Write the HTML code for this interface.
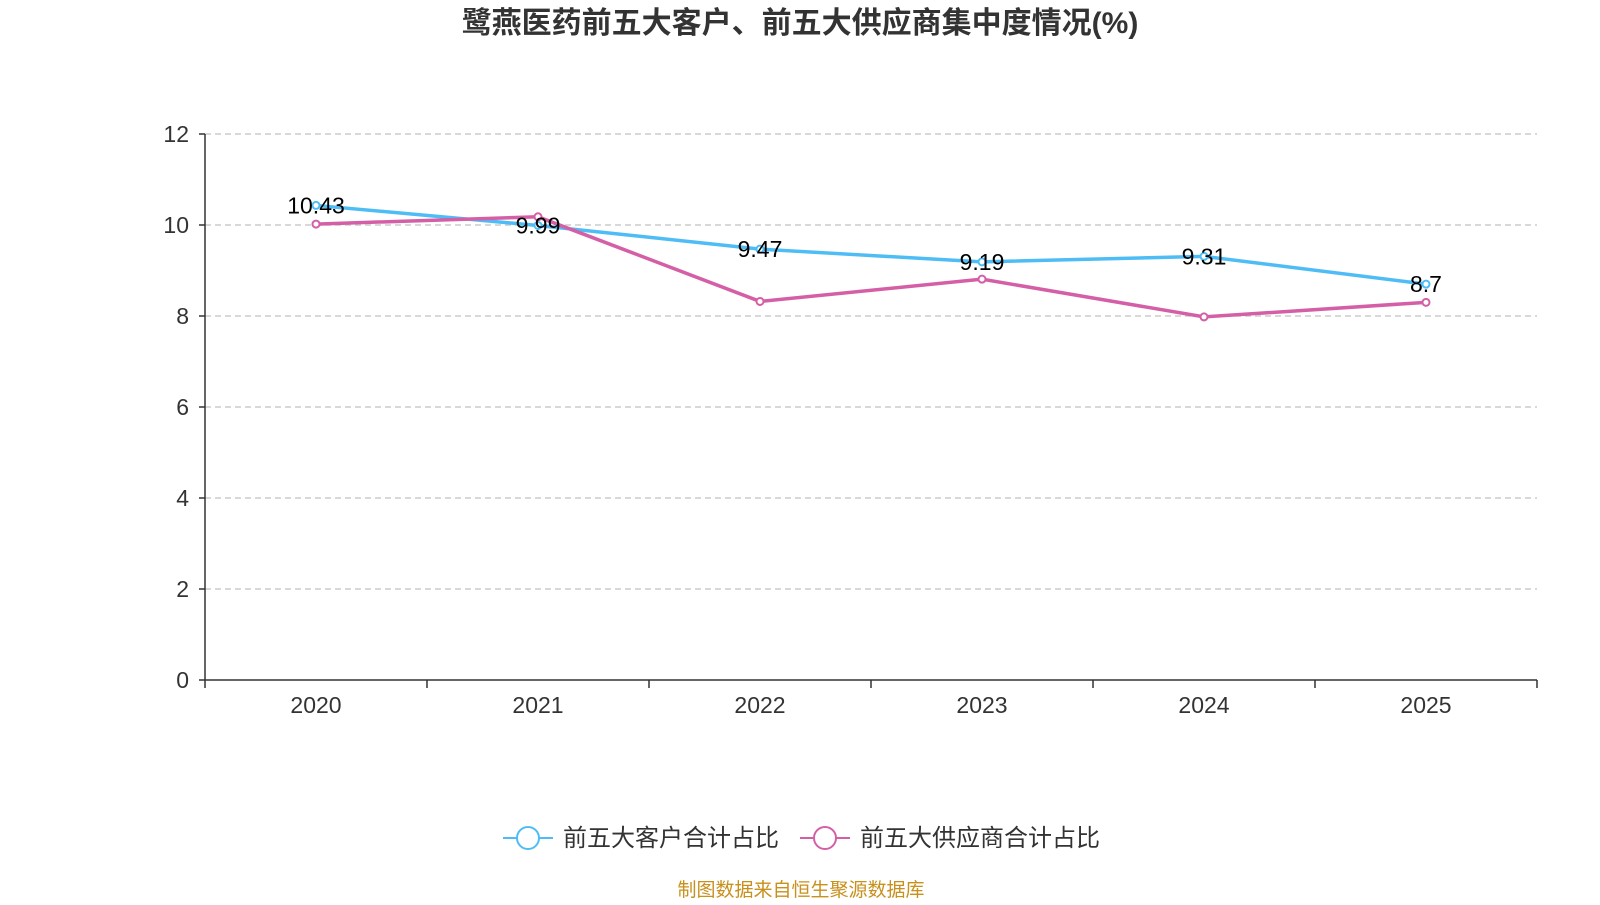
<!DOCTYPE html>
<html><head><meta charset="utf-8">
<style>
html,body{margin:0;padding:0;background:#fff;}
body{width:1600px;height:900px;overflow:hidden;font-family:"Liberation Sans","Noto Sans CJK SC",sans-serif;}
</style></head>
<body>
<svg id="chart" width="1600" height="900" xmlns="http://www.w3.org/2000/svg" font-family="Liberation Sans, Noto Sans CJK SC, sans-serif">
<text x="800" y="33" text-anchor="middle" font-size="30" font-weight="bold" fill="#333">鹭燕医药前五大客户、前五大供应商集中度情况(%)</text>
<g id="grid"></g><g id="axes"></g><g id="series"></g>
<g>
<g>
<line x1="503" y1="838" x2="553" y2="838" stroke="#4fbdf5" stroke-width="2"/>
<circle cx="528" cy="838" r="11" fill="#fff" stroke="#4fbdf5" stroke-width="2"/>
<text x="563" y="846" font-size="24" fill="#333">前五大客户合计占比</text></g>
<g>
<line x1="800" y1="838" x2="850" y2="838" stroke="#d45fa6" stroke-width="2"/>
<circle cx="825" cy="838" r="11" fill="#fff" stroke="#d45fa6" stroke-width="2"/>
<text x="860" y="846" font-size="24" fill="#333">前五大供应商合计占比</text></g>
</g>
<text x="801" y="896" text-anchor="middle" font-size="19" fill="#c8901c">制图数据来自恒生聚源数据库</text>
</svg>
<script>
const categories=["2020","2021","2022","2023","2024","2025"];
const customerValues=[10.43,9.99,9.47,9.19,9.31,8.7];
const supplierValues=[10.02,10.18,8.32,8.81,7.98,8.30];
const yTicks=[0,2,4,6,8,10,12];
const NS="http://www.w3.org/2000/svg";
const L=205,R=1537,T=134,B=680;
const band=(R-L)/categories.length;
const x=i=>L+band*(i+0.5);
const y=v=>B-(v/12)*(B-T);
function mk(tag,attrs,parent,text){const e=document.createElementNS(NS,tag);for(const k in attrs)e.setAttribute(k,attrs[k]);if(text!==undefined)e.textContent=text;parent.appendChild(e);return e;}
const grid=document.getElementById('grid'),axes=document.getElementById('axes'),series=document.getElementById('series');
yTicks.forEach(t=>{
  if(t>0){const g=mk('line',{x1:L,x2:R,y1:y(t),y2:y(t),stroke:'#ccc','stroke-dasharray':'6,4','stroke-width':1.5},grid);
  
  }
  const tk=mk('line',{x1:L-6,x2:L,y1:y(t),y2:y(t),stroke:'#333','stroke-width':1.5},axes);
  
  
  const lb=mk('text',{x:L-16,y:y(t)+8,'text-anchor':'end','font-size':23,fill:'#333'},axes,String(t));
  
  
});
const ya=mk('line',{x1:L,x2:L,y1:T,y2:B,stroke:'#333','stroke-width':1.5},axes);


const xa=mk('line',{x1:L,x2:R,y1:B,y2:B,stroke:'#333','stroke-width':1.5},axes);


for(let i=0;i<=categories.length;i++){const tk=mk('line',{x1:L+band*i,x2:L+band*i,y1:B,y2:B+8,stroke:'#333','stroke-width':1.5},axes);

}
categories.forEach((c,i)=>{const t=mk('text',{x:x(i),y:B+33,'text-anchor':'middle','font-size':23,fill:'#333'},axes,c);

});
function draw(vals,color,name){
  const p=mk('polyline',{points:vals.map((v,i)=>x(i)+','+y(v)).join(' '),fill:'none',stroke:color,'stroke-width':3.5},series);
  
  
  vals.forEach((v,i)=>{
    const c=mk('circle',{cx:x(i),cy:y(v),r:3.5,fill:'#fff',stroke:color,'stroke-width':2},series);
    
    
  });
}
draw(customerValues,'#4fbdf5','customers');
draw(supplierValues,'#d45fa6','suppliers');
customerValues.forEach((v,i)=>{const t=mk('text',{x:x(i),y:y(v)+8,'text-anchor':'middle','font-size':23,fill:'#000'},series,String(v));

});
</script>
</body></html>
